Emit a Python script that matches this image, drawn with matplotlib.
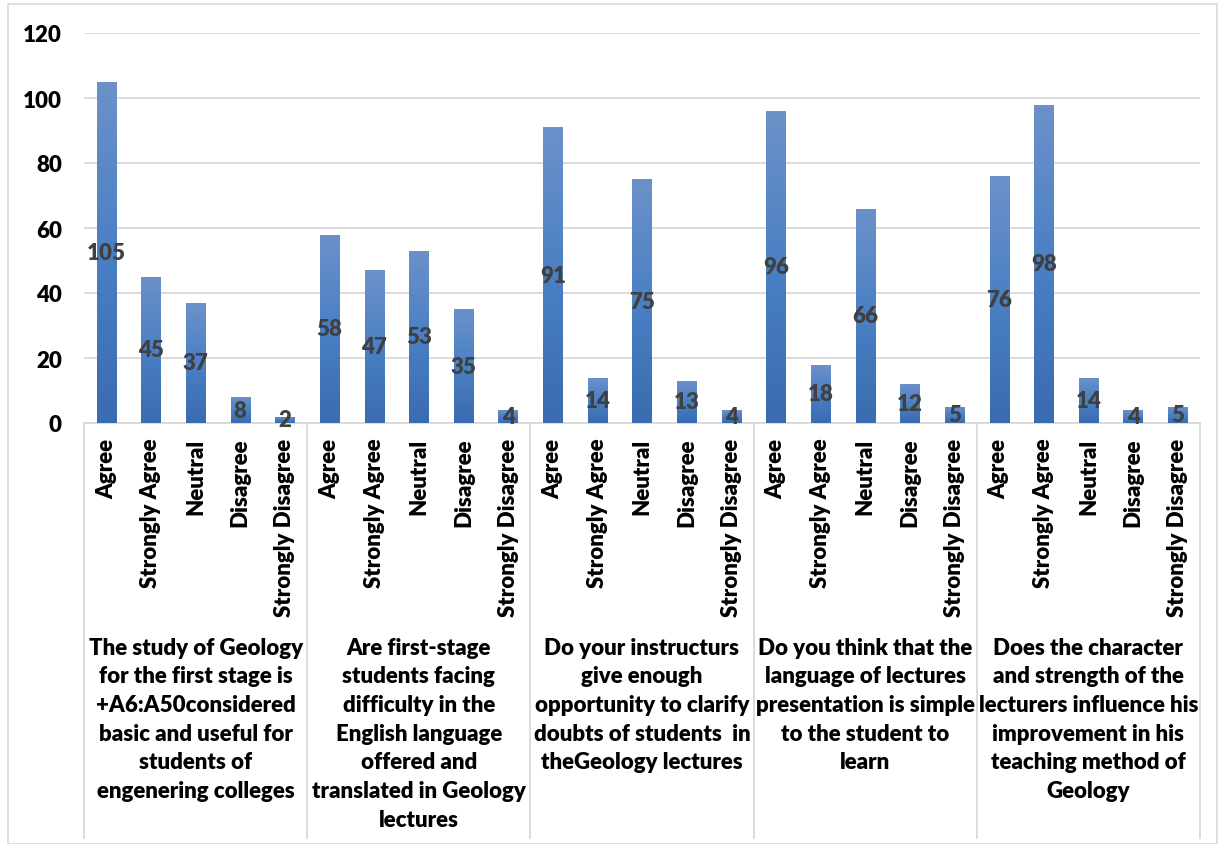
import numpy as np
import matplotlib
matplotlib.use("Agg")
import matplotlib.pyplot as plt
from matplotlib.colors import LinearSegmentedColormap
from matplotlib.patches import Rectangle

plt.rcParams['font.family'] = ['Lato', 'DejaVu Sans']
WT = 800   # Lato Heavy, closest to the heavy Calibri Bold look
FS = 16

# data
answers = ['Agree', 'Strongly Agree', 'Neutral', 'Disagree', 'Strongly Disagree']
questions = [
    'The study of Geology\nfor the first stage is\n+A6:A50considered\nbasic and useful for\nstudents of\nengenering colleges',
    'Are first-stage\nstudents facing\ndifficulty in the\nEnglish language\noffered and\ntranslated in Geology\nlectures',
    'Do your instructurs\ngive enough\nopportunity to clarify\ndoubts of students  in\ntheGeology lectures',
    'Do you think that the\nlanguage of lectures\npresentation is simple\nto the student to\nlearn',
    'Does the character\nand strength of the\nlecturers influence his\nimprovement in his\nteaching method of\nGeology',
]
q1 = [105, 45, 37, 8, 2]
q2 = [58, 47, 53, 35, 4]
q3 = [91, 14, 75, 13, 4]
q4 = [96, 18, 66, 12, 5]
q5 = [76, 98, 14, 4, 5]
values = q1 + q2 + q3 + q4 + q5

W, H = 1218, 845
fig = plt.figure(figsize=(W / 100, H / 100), dpi=100)
fig.patches.append(Rectangle((8 / W, 0), 1 - 9 / W, 1 - 5 / H, transform=fig.transFigure,
                             fill=False, edgecolor='#D9D9D9', linewidth=1.2))

ax = fig.add_axes([84 / W, 1 - 424 / H, (1200 - 84) / W, (424 - 34) / H])
x = np.arange(len(values))
bars = ax.bar(x, values, width=0.43, color='#4A7EC0', zorder=2)

cmap = LinearSegmentedColormap.from_list('g', ['#3A6CAF', '#4A80C4', '#6C91C9'])
grad = np.linspace(0, 1, 100).reshape(-1, 1)
for b in bars:
    bx, bw, bh = b.get_x(), b.get_width(), b.get_height()
    im = ax.imshow(grad, cmap=cmap, origin='lower', aspect='auto',
                   extent=(bx, bx + bw, 0, bh), zorder=3)
    im.set_clip_path(b)
    ax.text(bx + bw / 2, bh / 2, str(int(bh)), ha='center', va='center',
            fontsize=FS, color='#404040', fontweight=WT, zorder=4)

ax.set_xlim(-0.5, len(values) - 0.5)
ax.set_ylim(0, 120)
ax.set_yticks(range(0, 121, 20))
ax.tick_params(axis='y', length=0, labelsize=FS, pad=16)
for t in ax.get_yticklabels():
    t.set_fontweight(WT)
ax.set_xticks([])
ax.yaxis.grid(True, color='#D9D9D9', linewidth=1.3, zorder=0)
ax.set_axisbelow(True)
for s in ['top', 'right', 'left']:
    ax.spines[s].set_visible(False)
ax.spines['bottom'].set_color('#D9D9D9')
ax.spines['bottom'].set_linewidth(1.3)

# multi-level category axis
tr = ax.get_xaxis_transform()
for i, v in enumerate(values):
    ax.text(i, -0.038, answers[i % 5], rotation=90, ha='center', va='top',
            fontsize=FS, fontweight=WT, transform=tr)
for g in range(len(questions) + 1):
    ax.plot([g * 5 - 0.5, g * 5 - 0.5], [0, -1.065], transform=tr, color='#D9D9D9',
            linewidth=1.3, clip_on=False)
for g, q in enumerate(questions):
    ax.text(g * 5 + 2, -0.548, q, ha='center', va='top', fontsize=FS,
            fontweight=WT, linespacing=1.45, transform=tr)

fig.savefig('out.png', dpi=100)
